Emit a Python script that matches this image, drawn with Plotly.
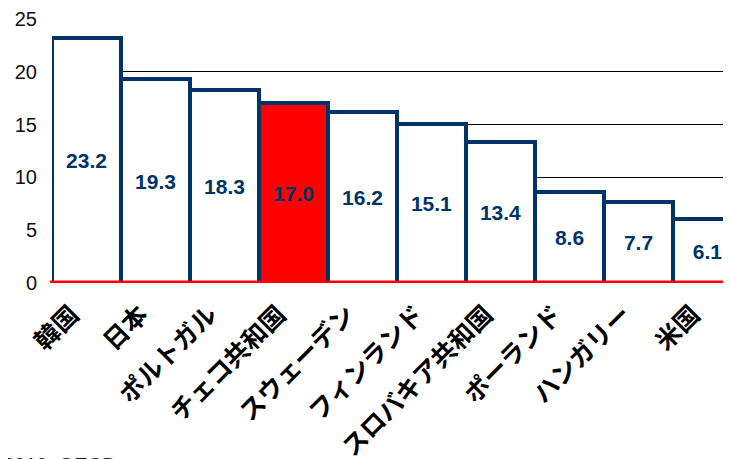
import plotly.graph_objects as go

countries = ["韓国", "日本", "ポルトガル", "チェコ共和国", "スウェーデン",
             "フィンランド", "スロバキア共和国", "ポーランド", "ハンガリー", "米国"]
values = [23.2, 19.3, 18.3, 17.0, 16.2, 15.1, 13.4, 8.6, 7.7, 6.1]
highlight = "チェコ共和国"
y_ticks = [0, 5, 10, 15, 20, 25]
source_note = "2010, OECD"

NAVY = "#003366"
fills = ["#FF0000" if c == highlight else "#FFFFFF" for c in countries]

fig = go.Figure(go.Bar(
    x=countries,
    y=values,
    marker=dict(color=fills, line=dict(color=NAVY, width=4)),
    text=[f"{v:.1f}" for v in values],
    textposition="inside",
    insidetextanchor="middle",
    textangle=0,
    constraintext="none",
    textfont=dict(family="Liberation Sans", size=21, color=NAVY, weight="bold"),
    hoverinfo="skip",
))

# page has an 8px body margin, so the figure is sized to the remaining area
fig.update_layout(
    width=723, height=451,
    margin=dict(l=44, r=0, t=11, b=176, pad=0, autoexpand=False),
    paper_bgcolor="white", plot_bgcolor="white",
    bargap=0,
    showlegend=False,
    xaxis=dict(
        range=[-0.5, 9.34],
        automargin=False,
        tickangle=-45,
        tickfont=dict(family="Noto Sans CJK JP", size=25, color="black", weight="bold"),
        showgrid=False, showline=False, zeroline=False, ticks="",
        ticklabelstandoff=11, ticklabelshift=-15,
    ),
    yaxis=dict(
        range=[0, 25],
        automargin=False,
        tickvals=y_ticks,
        tickfont=dict(family="Liberation Sans", size=20, color="#111111"),
        showgrid=True, gridcolor="black", gridwidth=1.3,
        zeroline=False, showline=False, ticks="",
        ticklabelstandoff=14,
    ),
    shapes=[dict(type="line", xref="paper", yref="y", x0=-0.003, x1=1, y0=0, y1=0,
                 line=dict(color="#FF0000", width=5), layer="above")],
    annotations=[dict(text=source_note, xref="paper", yref="paper",
                      x=0.097, y=-0.64, xanchor="right", yanchor="top", showarrow=False,
                      font=dict(family="Liberation Sans", size=20, color="#222222"))],
)

fig.write_html("out.html")
